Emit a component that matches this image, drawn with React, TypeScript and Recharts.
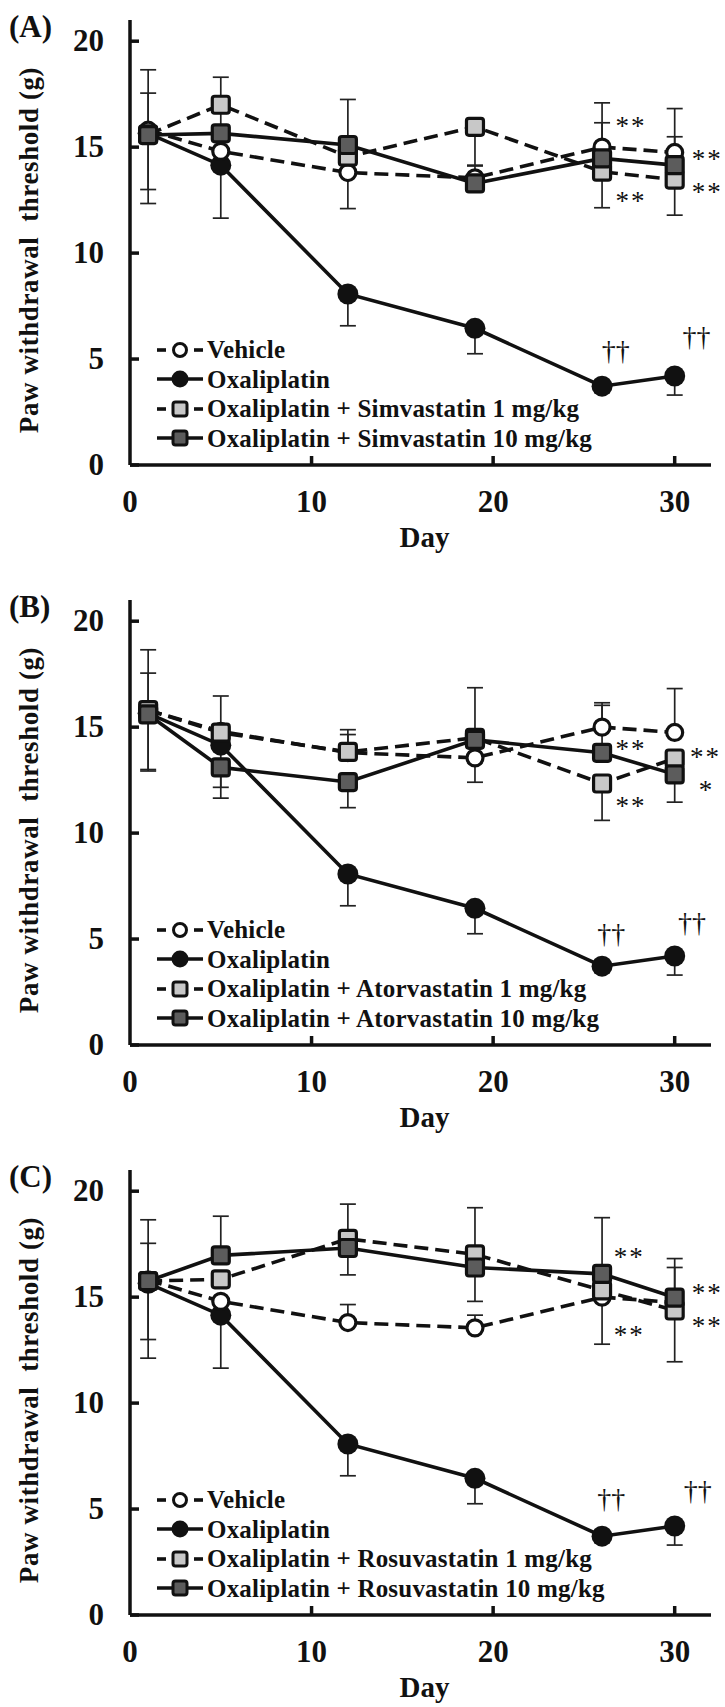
import React from 'react';
import { LineChart, Line, XAxis, YAxis, ErrorBar, Legend, Label, ReferenceDot } from 'recharts';

const FONT = '"Liberation Serif", "Times New Roman", Times, serif';

const DAYS = [1, 5, 12, 19, 26, 30];
const X_TICKS = [0, 10, 20, 30];
const Y_TICKS = [0, 5, 10, 15, 20];

// control groups are the same in all three panels
const VEHICLE = [15.8, 14.8, 13.8, 13.55, 15.0, 14.75];
const VEHICLE_ERR = [[0, 2.85], [0, 0], [0, 0.85], [0, 0.6], [0, 1.15], [0, 2.07]];
const OXALIPLATIN = [15.65, 14.15, 8.07, 6.45, 3.72, 4.2];
const OXALIPLATIN_ERR = [[2.65, 0], [2.5, 0], [1.5, 0], [1.2, 0], [0.3, 0], [0.9, 0]];

// (A) simvastatin
const SIMVA_1 = [15.6, 17.0, 14.55, 15.96, 13.84, 13.47];
const SIMVA_1_ERR = [[0, 1.95], [0, 1.3], [2.45, 0], [1.85, 0], [1.7, 0], [1.68, 0]];
const SIMVA_10 = [15.57, 15.65, 15.1, 13.29, 14.47, 14.15];
const SIMVA_10_ERR = [[3.23, 0], [0, 0.95], [0, 2.15], [0, 0], [0, 2.62], [0, 1.34]];
const SIMVA_MARKS = [
  { day: 27.6, value: 16.2, text: '**' },
  { day: 27.6, value: 12.65, text: '**' },
  { day: 31.8, value: 14.65, text: '**' },
  { day: 31.8, value: 13.05, text: '**' },
  { day: 26.75, value: 5.35, text: '††' },
  { day: 31.2, value: 6.0, text: '††' },
];

// (B) atorvastatin
const ATORVA_1 = [15.8, 14.74, 13.83, 14.5, 12.34, 13.52];
const ATORVA_1_ERR = [[0, 1.75], [0, 1.73], [0, 1.05], [2.1, 0], [1.74, 0], [0, 0]];
const ATORVA_10 = [15.6, 13.1, 12.41, 14.4, 13.79, 12.77];
const ATORVA_10_ERR = [[2.67, 0], [0.94, 0], [1.21, 0], [0, 2.46], [0, 2.24], [1.31, 0]];
const ATORVA_MARKS = [
  { day: 27.6, value: 14.15, text: '**' },
  { day: 27.6, value: 11.45, text: '**' },
  { day: 31.7, value: 13.8, text: '**' },
  { day: 31.75, value: 12.2, text: '*' },
  { day: 26.5, value: 5.2, text: '††' },
  { day: 30.95, value: 5.7, text: '††' },
];

// (C) rosuvastatin
const ROSUVA_1 = [15.76, 15.84, 17.75, 17.02, 15.32, 14.37];
const ROSUVA_1_ERR = [[0, 1.78], [0, 0], [0, 1.64], [0, 2.2], [2.54, 0], [2.42, 0]];
const ROSUVA_10 = [15.76, 16.97, 17.32, 16.4, 16.1, 14.98];
const ROSUVA_10_ERR = [[3.64, 0], [0, 1.85], [1.27, 0], [1.6, 0], [0, 2.65], [0, 1.42]];
const ROSUVA_MARKS = [
  { day: 27.5, value: 17.1, text: '**' },
  { day: 27.5, value: 13.4, text: '**' },
  { day: 31.8, value: 15.4, text: '**' },
  { day: 31.8, value: 13.85, text: '**' },
  { day: 26.5, value: 5.45, text: '††' },
  { day: 31.27, value: 5.8, text: '††' },
];

const PANELS = [
  { letter: '(A)', drug: 'Simvastatin', low: SIMVA_1, lowErr: SIMVA_1_ERR, high: SIMVA_10, highErr: SIMVA_10_ERR, marks: SIMVA_MARKS, top: 0 },
  { letter: '(B)', drug: 'Atorvastatin', low: ATORVA_1, lowErr: ATORVA_1_ERR, high: ATORVA_10, highErr: ATORVA_10_ERR, marks: ATORVA_MARKS, top: 580 },
  { letter: '(C)', drug: 'Rosuvastatin', low: ROSUVA_1, lowErr: ROSUVA_1_ERR, high: ROSUVA_10, highErr: ROSUVA_10_ERR, marks: ROSUVA_MARKS, top: 1150 },
];

const INK = '#111';
const LIGHT = '#c8c8c8';
const DARK = '#5c5c5c';
const DASH = '14 7';
const LW = 3.6;

type Kind = 'open' | 'filled' | 'light' | 'dark';

const Marker = ({ cx, cy, kind, legend }: { cx?: number; cy?: number; kind: Kind; legend?: boolean }) => {
  if (cx == null || cy == null) return null;
  if (kind === 'open') {
    return <circle cx={cx} cy={cy} r={legend ? 6.5 : 8} fill="#fff" stroke={INK} strokeWidth={legend ? 3 : 3.2} />;
  }
  if (kind === 'filled') {
    return <circle cx={cx} cy={cy} r={legend ? 8.5 : 10.5} fill={INK} />;
  }
  const s = legend ? 14 : 17;
  return (
    <rect x={cx - s / 2} y={cy - s / 2} width={s} height={s} rx={2.5}
      fill={kind === 'light' ? LIGHT : DARK} stroke={INK} strokeWidth={legend ? 3 : 3.2} />
  );
};

const YTick = (props: any) => {
  const { x, y, payload } = props;
  return (
    <g>
      <line x1={x} x2={x + 9} y1={y} y2={y} stroke={INK} strokeWidth={3.5} />
      <text x={x - 26} y={y + 10} textAnchor="end" fontFamily={FONT} fontWeight="bold" fontSize={31} fill={INK}>
        {payload.value}
      </text>
    </g>
  );
};

const XTick = (props: any) => {
  const { x, y, payload } = props;
  return (
    <g>
      {payload.value !== 0 && <line x1={x} x2={x} y1={y} y2={y - 9} stroke={INK} strokeWidth={3.5} />}
      <text x={x} y={y + 47} textAnchor="middle" fontFamily={FONT} fontWeight="bold" fontSize={31} fill={INK}>
        {payload.value}
      </text>
    </g>
  );
};

const MarkText = (props: any) => {
  const { cx, cy, text } = props;
  if (cx == null || cy == null) return null;
  const dagger = text.includes('†');
  return (
    <text x={cx} y={cy + (dagger ? 8 : 13)} textAnchor="middle" fontFamily={FONT}
      fontSize={dagger ? 28 : 27} letterSpacing={dagger ? 0 : 2} fill={INK}>
      {text}
    </text>
  );
};

const LegendBox = ({ items }: { items: { name: string; kind: Kind; dashed: boolean }[] }) => (
  <div style={{ fontFamily: FONT, fontWeight: 'bold', fontSize: 25, color: INK }}>
    {items.map((it) => (
      <div key={it.name} style={{ display: 'flex', alignItems: 'center', height: 29.5, lineHeight: '29.5px', whiteSpace: 'nowrap' }}>
        <svg width={46} height={22} style={{ display: 'block', marginRight: 4 }}>
          {it.dashed ? (
            <>
              <line x1={0} x2={9} y1={11} y2={11} stroke={INK} strokeWidth={LW} />
              <line x1={37} x2={46} y1={11} y2={11} stroke={INK} strokeWidth={LW} />
            </>
          ) : (
            <line x1={0} x2={46} y1={11} y2={11} stroke={INK} strokeWidth={LW} />
          )}
          <Marker cx={23} cy={11} kind={it.kind} legend />
        </svg>
        <span style={{ letterSpacing: 0.2 }}>{it.name}</span>
      </div>
    ))}
  </div>
);

const Panel = ({ p }: { p: (typeof PANELS)[number] }) => {
  const data = DAYS.map((day, i) => ({
    day,
    vehicle: VEHICLE[i],
    vehicleErr: VEHICLE_ERR[i],
    oxa: OXALIPLATIN[i],
    oxaErr: OXALIPLATIN_ERR[i],
    low: p.low[i],
    lowErr: p.lowErr[i],
    high: p.high[i],
    highErr: p.highErr[i],
  }));

  const items = [
    { name: 'Vehicle', kind: 'open' as Kind, dashed: true },
    { name: 'Oxaliplatin', kind: 'filled' as Kind, dashed: false },
    { name: `Oxaliplatin + ${p.drug} 1 mg/kg`, kind: 'light' as Kind, dashed: true },
    { name: `Oxaliplatin + ${p.drug} 10 mg/kg`, kind: 'dark' as Kind, dashed: false },
  ];

  const err = (key: string) => (
    <ErrorBar dataKey={key} width={8} strokeWidth={1.7} stroke="#222" direction="y" />
  );

  return (
    <div style={{ position: 'absolute', left: 0, top: p.top, width: 725, height: 557 }}>
      <LineChart width={725} height={557} data={data} margin={{ top: 20, right: 14, bottom: 32, left: 0 }}>
        <XAxis dataKey="day" type="number" domain={[0, 32]} ticks={X_TICKS} interval={0}
          height={60} tickSize={0} tickMargin={0} tickLine={false} tick={<XTick />}
          axisLine={{ stroke: INK, strokeWidth: 3.5 }}>
          <Label content={(lp: any) => {
            const vb = lp.viewBox;
            return (
              <text x={vb.x + vb.width / 2 + 4} y={vb.y + 82} textAnchor="middle" fontFamily={FONT}
                fontWeight="bold" fontSize={29} fill={INK}>Day</text>
            );
          }} />
        </XAxis>
        <YAxis type="number" domain={[0, 21]} ticks={Y_TICKS} interval={0} width={130}
          tickSize={0} tickMargin={0} tickLine={false} tick={<YTick />}
          axisLine={{ stroke: INK, strokeWidth: 3.5 }}>
          <Label content={(lp: any) => {
            const vb = lp.viewBox;
            const cy = vb.y + 230;
            return (
              <text x={38} y={cy} transform={`rotate(-90 38 ${cy})`} textAnchor="middle" fontFamily={FONT}
                fontWeight="bold" fontSize={27} letterSpacing={0.6} fill={INK} style={{ whiteSpace: 'pre' }}>
                {'Paw withdrawal  threshold (g)'}
              </text>
            );
          }} />
        </YAxis>
        <Legend layout="vertical" align="center" verticalAlign="middle"
          wrapperStyle={{ left: 157, top: 335, width: 500 }}
          content={() => <LegendBox items={items} />} />
        <Line dataKey="oxa" name="Oxaliplatin" type="linear" stroke={INK} strokeWidth={LW}
          dot={(dp: any) => <Marker key={`o${dp.index}`} cx={dp.cx} cy={dp.cy} kind="filled" />}
          activeDot={false} isAnimationActive={false}>
          {err('oxaErr')}
        </Line>
        <Line dataKey="vehicle" name="Vehicle" type="linear" stroke={INK} strokeWidth={LW} strokeDasharray={DASH}
          dot={(dp: any) => <Marker key={`v${dp.index}`} cx={dp.cx} cy={dp.cy} kind="open" />}
          activeDot={false} isAnimationActive={false}>
          {err('vehicleErr')}
        </Line>
        <Line dataKey="low" name="1 mg/kg" type="linear" stroke={INK} strokeWidth={LW} strokeDasharray={DASH}
          dot={(dp: any) => <Marker key={`l${dp.index}`} cx={dp.cx} cy={dp.cy} kind="light" />}
          activeDot={false} isAnimationActive={false}>
          {err('lowErr')}
        </Line>
        <Line dataKey="high" name="10 mg/kg" type="linear" stroke={INK} strokeWidth={LW}
          dot={(dp: any) => <Marker key={`h${dp.index}`} cx={dp.cx} cy={dp.cy} kind="dark" />}
          activeDot={false} isAnimationActive={false}>
          {err('highErr')}
        </Line>
        {p.marks.map((m, i) => (
          <ReferenceDot key={i} x={m.day} y={m.value} r={0} ifOverflow="visible"
            shape={(sp: any) => <MarkText cx={sp.cx} cy={sp.cy} text={m.text} />} />
        ))}
      </LineChart>
      <svg width={80} height={50} style={{ position: 'absolute', left: 0, top: 0 }}>
        <text x={9} y={37} fontFamily={FONT} fontWeight="bold" fontSize={31} fill={INK}>{p.letter}</text>
      </svg>
    </div>
  );
};

export default function App() {
  return (
    <div style={{ position: 'absolute', left: 0, top: 0, width: 725, height: 1707, background: '#fff' }}>
      {PANELS.map((p) => (
        <Panel key={p.letter} p={p} />
      ))}
    </div>
  );
}
